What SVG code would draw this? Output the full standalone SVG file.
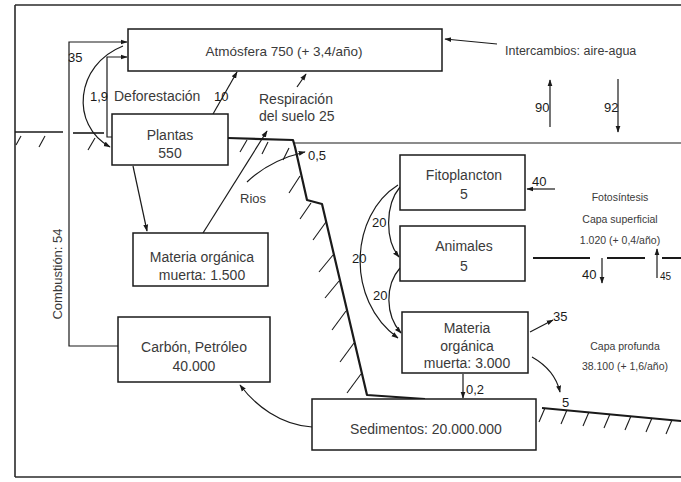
<svg xmlns="http://www.w3.org/2000/svg" width="681" height="482" viewBox="0 0 681 482">
<style>
  .bg { fill: #ffffff; }
  .box rect { fill: #ffffff; stroke: #1a1a1a; stroke-width: 1.5; }
  .t { font-family: "Liberation Sans", Arial, sans-serif; fill: #3a3a3a; }
  .lab { font-size: 14px; text-anchor: middle; }
  .num { font-family: "Liberation Sans", Arial, sans-serif; font-size: 13px; fill: #1a1a1a; }
  .small { font-size: 10.5px; text-anchor: middle; }
  .con path, .con line, .con polyline { fill: none; stroke: #1a1a1a; stroke-width: 1.2; }
  .arr { marker-end: url(#ah); }
  .ground { fill: none; stroke: #1a1a1a; stroke-width: 2.2; stroke-linejoin: round; }
  .thin { fill: none; stroke: #1a1a1a; stroke-width: 1.1; }
  .hatch { stroke: #1a1a1a; stroke-width: 1.1; }
  .frame { fill: none; stroke: #2a2a2a; stroke-width: 1.6; }
</style>
<defs>
  <marker id="ah" viewBox="0 0 10 10" refX="9" refY="5" markerUnits="userSpaceOnUse" markerWidth="7" markerHeight="7" orient="auto">
    <path d="M0,1.5 L10,5 L0,8.5 z" fill="#1a1a1a"/>
  </marker>
</defs>
<rect class="bg" x="0" y="0" width="681" height="482"/>

<!-- frame -->
<g id="frame">
  <line class="frame" x1="15" y1="5" x2="681" y2="5"/>
  <line class="frame" x1="15" y1="5" x2="15" y2="477"/>
  <line class="frame" x1="15" y1="477" x2="681" y2="477"/>
</g>

<!-- terrain / water -->
<g id="terrain">
  <line class="ground" x1="15" y1="132" x2="63" y2="132" style="stroke-width:1.6"/>
  <line class="ground" x1="73" y1="133" x2="104" y2="133" style="stroke-width:1.6"/>
  <polyline class="ground" points="228,138 293,140 295,147 307,200 322,204 367,395 425,399"/>
  <line class="thin" x1="293" y1="143" x2="681" y2="143"/>
  <line class="ground" x1="542" y1="408" x2="681" y2="421" style="stroke-width:1.8"/>
  <g class="hatch">
    <line x1="16" y1="145" x2="21" y2="136"/>
    <line x1="39" y1="147" x2="45" y2="136"/>
    <line x1="88" y1="150" x2="95" y2="138"/>
    <line x1="240" y1="152" x2="247" y2="140"/>
    <line x1="262" y1="154" x2="268" y2="142"/>
    <line x1="283" y1="160" x2="289" y2="148"/>
    <line x1="289" y1="193" x2="300" y2="176"/>
    <line x1="300" y1="219" x2="311" y2="203"/>
    <line x1="313" y1="240" x2="326" y2="222"/>
    <line x1="319" y1="272" x2="333" y2="255"/>
    <line x1="325" y1="298" x2="339" y2="281"/>
    <line x1="332" y1="330" x2="346" y2="311"/>
    <line x1="340" y1="362" x2="354" y2="343"/>
    <line x1="347" y1="393" x2="361" y2="374"/>
    <line x1="539" y1="422" x2="545" y2="408"/>
    <line x1="561" y1="424" x2="567" y2="410"/>
    <line x1="583" y1="426" x2="589" y2="412"/>
    <line x1="604" y1="428" x2="610" y2="414"/>
    <line x1="625" y1="430" x2="631" y2="416"/>
    <line x1="646" y1="432" x2="652" y2="418"/>
    <line x1="666" y1="434" x2="672" y2="420"/>
  </g>
  <g class="thin" style="stroke-width:2">
    <line x1="533" y1="258" x2="590" y2="258"/>
    <line x1="607" y1="258" x2="645" y2="258"/>
    <line x1="662" y1="258" x2="681" y2="258"/>
  </g>
</g>

<!-- connectors -->
<g id="connectors" class="con">
  <polyline class="arr" points="118,346 69,346 69,42 127,42"/>
  <polyline class="arr" points="112,137 107,137 107,57 127,57"/>
  <path class="arr" d="M123,46 C75,65 70,125 110,147"/>
  <line class="arr" x1="213" y1="114" x2="237" y2="72"/>
  <line class="arr" x1="203" y1="233" x2="267" y2="131"/>
  <line class="arr" x1="297" y1="87" x2="306" y2="74"/>
  <path class="arr" d="M247,182 Q270,160 305,152"/>
  <line class="arr" x1="133" y1="166" x2="147" y2="231"/>
  <line class="arr" x1="497" y1="44" x2="445" y2="39"/>
  <line class="arr" x1="550" y1="127" x2="550" y2="80"/>
  <line class="arr" x1="618" y1="79" x2="618" y2="132"/>
  <line class="arr" x1="555" y1="189" x2="527" y2="189"/>
  <line class="arr" x1="602" y1="258" x2="602" y2="283"/>
  <line class="arr" x1="657" y1="278" x2="657" y2="249"/>
  <path class="arr" d="M400,187 C385,205 385,240 399,257"/>
  <path class="arr" d="M398,185 C350,215 345,300 398,338"/>
  <path class="arr" d="M400,268 C385,285 385,315 401,333"/>
  <line class="arr" x1="530" y1="332" x2="553" y2="320"/>
  <path class="arr" d="M532,357 Q555,370 560,392"/>
  <line class="arr" x1="463" y1="374" x2="463" y2="398"/>
  <path class="arr" d="M312,427 C280,425 255,405 240,385"/>
</g>

<!-- nodes -->
<g id="atmosfera" class="box">
  <rect x="128" y="29" width="314" height="42"/>
  <text class="t lab" x="284" y="56" style="font-size:13.5px">Atmósfera 750 (+ 3,4/año)</text>
</g>
<g id="plantas" class="box">
  <rect x="112" y="114" width="116" height="51"/>
  <text class="t lab" x="170" y="140">Plantas</text>
  <text class="t lab" x="170" y="158">550</text>
</g>
<g id="materia-organica-tierra" class="box">
  <rect x="133" y="233" width="135" height="53"/>
  <text class="t lab" x="202" y="262">Materia orgánica</text>
  <text class="t lab" x="202" y="280">muerta: 1.500</text>
</g>
<g id="carbon-petroleo" class="box">
  <rect x="118" y="317" width="152" height="65"/>
  <text class="t lab" x="194" y="352">Carbón, Petróleo</text>
  <text class="t lab" x="194" y="371">40.000</text>
</g>
<g id="sedimentos" class="box">
  <rect x="312" y="399" width="224" height="51"/>
  <text class="t lab" x="426" y="434">Sedimentos: 20.000.000</text>
</g>
<g id="fitoplancton" class="box">
  <rect x="400" y="155" width="125" height="55"/>
  <text class="t lab" x="464" y="180">Fitoplancton</text>
  <text class="t lab" x="464" y="199">5</text>
</g>
<g id="animales" class="box">
  <rect x="400" y="226" width="125" height="55"/>
  <text class="t lab" x="464" y="251">Animales</text>
  <text class="t lab" x="464" y="271">5</text>
</g>
<g id="materia-organica-mar" class="box">
  <rect x="402" y="312" width="126" height="61"/>
  <text class="t lab" x="467" y="333">Materia</text>
  <text class="t lab" x="467" y="351">orgánica</text>
  <text class="t lab" x="467" y="368">muerta: 3.000</text>
</g>

<!-- labels -->
<g id="labels">
  <text class="num" x="68" y="62">35</text>
  <text class="num" x="90" y="101">1,9</text>
  <text class="t" x="114" y="101" style="font-size:14px">Deforestación</text>
  <text class="num" x="214" y="101">10</text>
  <text class="t" x="259" y="104" style="font-size:14px">Respiración</text>
  <text class="t" x="259" y="121" style="font-size:14px">del suelo 25</text>
  <text class="t" x="240" y="203" style="font-size:13px">Rios</text>
  <text class="num" x="308" y="160">0,5</text>
  <text class="t" x="505" y="55" style="font-size:12.5px">Intercambios: aire-agua</text>
  <text class="num" x="535" y="112">90</text>
  <text class="num" x="604" y="112">92</text>
  <text class="num" x="532" y="186">40</text>
  <text class="t small" x="620" y="201">Fotosíntesis</text>
  <text class="t small" x="620" y="223">Capa superficial</text>
  <text class="t small" x="620" y="244">1.020 (+ 0,4/año)</text>
  <text class="num" x="582" y="279">40</text>
  <text class="num" x="660" y="280" style="font-size:10px">45</text>
  <text class="num" x="372" y="227">20</text>
  <text class="num" x="352" y="263">20</text>
  <text class="num" x="373" y="300">20</text>
  <text class="num" x="553" y="321">35</text>
  <text class="t small" x="625" y="350">Capa profunda</text>
  <text class="t small" x="625" y="370">38.100 (+ 1,6/año)</text>
  <text class="num" x="466" y="394">0,2</text>
  <text class="num" x="562" y="407">5</text>
  <text class="t" transform="translate(62,274) rotate(-90)" text-anchor="middle" style="font-size:13px">Combustión: 54</text>
</g>
</svg>
